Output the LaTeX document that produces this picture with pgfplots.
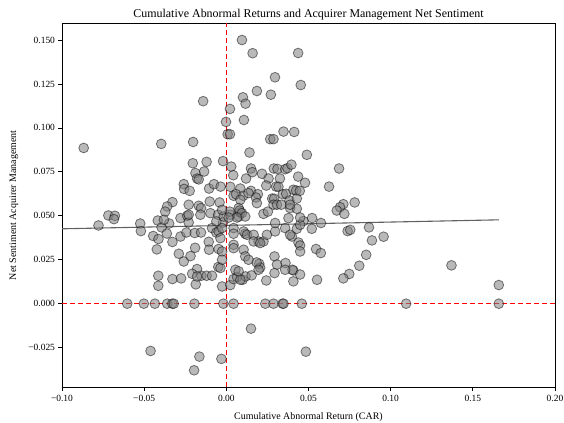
\documentclass[border=0pt]{standalone}
\usepackage{fontspec}
\setmainfont{Liberation Serif}
\usepackage{pgfplots}
\pgfplotsset{compat=1.18}
\usepackage{pgfplotstable}

% CAR (x) against net sentiment of acquirer management (y), one row per deal
\pgfplotstableread{
x y
0.0095 0.1500
0.0160 0.1425
0.0437 0.1426
0.0296 0.1288
0.0453 0.1244
0.0186 0.1210
0.0271 0.1189
0.0101 0.1174
0.0117 0.1138
-0.0141 0.1152
0.0022 0.1108
-0.0002 0.1034
0.0107 0.1045
0.0008 0.0964
0.0022 0.0964
0.0267 0.0936
0.0287 0.0936
0.0348 0.0979
0.0413 0.0977
-0.0868 0.0886
-0.0396 0.0909
-0.0202 0.0920
0.0141 0.0860
0.0490 0.0847
-0.0204 0.0799
-0.0120 0.0807
-0.0020 0.0811
0.0030 0.0780
-0.0188 0.0743
-0.0135 0.0752
-0.0178 0.0712
-0.0168 0.0707
0.0042 0.0731
0.0150 0.0769
0.0158 0.0748
0.0217 0.0739
0.0120 0.0712
0.0257 0.0712
0.0289 0.0769
0.0311 0.0767
0.0358 0.0765
0.0372 0.0771
0.0396 0.0791
0.0326 0.0712
0.0437 0.0723
0.0479 0.0688
0.0243 0.0672
0.0303 0.0666
0.0317 0.0665
-0.0259 0.0680
-0.0257 0.0653
-0.0223 0.0642
-0.0105 0.0655
-0.0075 0.0680
-0.0035 0.0666
0.0024 0.0665
0.0085 0.0655
0.0150 0.0642
0.0192 0.0623
0.0180 0.0604
0.0044 0.0614
0.0059 0.0623
0.0103 0.0614
0.0085 0.0591
0.0279 0.0598
0.0291 0.0597
0.0344 0.0623
0.0364 0.0625
0.0408 0.0648
0.0425 0.0644
0.0384 0.0587
0.0429 0.0598
0.0447 0.0642
0.0686 0.0769
0.0625 0.0666
0.0712 0.0566
0.0781 0.0576
0.0692 0.0549
0.0672 0.0530
0.0718 0.0511
0.0388 0.0544
0.0429 0.0540
0.0522 0.0487
0.0469 0.0470
0.0576 0.0459
0.0429 0.0426
0.0520 0.0426
0.0738 0.0413
0.0754 0.0420
0.0868 0.0434
0.0886 0.0360
0.0957 0.0381
0.0399 0.0382
0.0439 0.0348
0.0449 0.0331
0.0449 0.0297
0.0546 0.0311
0.0575 0.0288
0.0851 0.0278
0.0809 0.0216
0.0748 0.0169
0.0712 0.0144
0.0408 0.0189
0.0449 0.0166
0.0408 0.0127
0.0552 0.0136
0.1370 0.0218
0.1658 0.0106
0.0484 -0.0273
-0.0603 0.0000
-0.0502 0.0000
-0.0435 0.0000
-0.0360 0.0000
-0.0329 0.0000
-0.0320 0.0000
-0.0194 0.0000
-0.0018 0.0000
0.0044 0.0000
0.0237 0.0000
0.0287 0.0000
0.0342 0.0000
0.0348 0.0000
0.0459 0.0000
0.1094 0.0000
0.1658 0.0000
0.0150 -0.0142
-0.0461 -0.0269
-0.0164 -0.0301
-0.0030 -0.0314
-0.0196 -0.0379
-0.0328 0.0578
-0.0360 0.0553
-0.0372 0.0524
-0.0229 0.0563
-0.0168 0.0557
-0.0154 0.0544
-0.0101 0.0581
-0.0041 0.0576
-0.0718 0.0502
-0.0678 0.0500
-0.0684 0.0481
-0.0778 0.0445
-0.0524 0.0456
-0.0520 0.0413
-0.0417 0.0473
-0.0348 0.0456
-0.0394 0.0434
-0.0362 0.0399
-0.0445 0.0385
-0.0413 0.0368
-0.0328 0.0351
-0.0423 0.0309
-0.0289 0.0284
-0.0259 0.0240
-0.0218 0.0271
-0.0190 0.0318
-0.0107 0.0352
-0.0105 0.0307
-0.0178 0.0197
-0.0208 0.0170
-0.0152 0.0159
-0.0120 0.0159
-0.0087 0.0159
-0.0414 0.0159
-0.0414 0.0102
-0.0328 0.0140
-0.0275 0.0144
-0.0186 0.0110
-0.0049 0.0209
-0.0026 0.0098
0.0024 0.0106
0.0044 0.0140
0.0065 0.0152
0.0099 0.0136
0.0117 0.0155
0.0154 0.0161
0.0243 0.0132
0.0293 0.0174
0.0360 0.0231
0.0402 0.0193
0.0293 0.0269
0.0308 0.0223
0.0200 0.0227
0.0206 0.0205
0.0184 0.0235
-0.0380 0.0477
-0.0279 0.0487
-0.0238 0.0500
-0.0229 0.0462
-0.0279 0.0382
-0.0243 0.0405
-0.0192 0.0402
-0.0154 0.0405
-0.0097 0.0515
-0.0050 0.0506
-0.0158 0.0506
-0.0087 0.0430
-0.0061 0.0405
-0.0047 0.0411
-0.0036 0.0373
-0.0047 0.0311
-0.0026 0.0297
-0.0020 0.0462
-0.0061 0.0468
-0.0036 0.0203
-0.0178 0.0155
-0.0229 0.0506
-0.0016 0.0496
0.0024 0.0506
0.0075 0.0496
0.0085 0.0519
0.0226 0.0511
-0.0026 0.0430
0.0044 0.0430
0.0044 0.0398
0.0115 0.0398
0.0105 0.0411
0.0126 0.0392
0.0166 0.0392
0.0196 0.0354
0.0226 0.0354
0.0166 0.0354
0.0206 0.0345
0.0247 0.0392
0.0297 0.0411
0.0297 0.0459
0.0358 0.0430
0.0388 0.0392
0.0449 0.0449
0.0044 0.0335
0.0044 0.0316
0.0105 0.0307
0.0115 0.0269
0.0135 0.0250
-0.0026 0.0250
0.0196 0.0193
0.0358 0.0193
0.0055 0.0193
0.0075 0.0184
0.0085 0.0136
0.0135 0.0629
0.0253 0.0524
0.0186 0.0572
0.0287 0.0563
0.0308 0.0563
0.0334 0.0563
0.0388 0.0563
0.0378 0.0487
0.0449 0.0490
0.0020 0.0524
0.0075 0.0544
0.0081 0.0530
0.0095 0.0515
-0.0026 0.0534
0.0115 0.0496
0.0065 0.0490
0.0014 0.0490
}\cardata

% fitted least-squares line
\pgfplotstableread{
x y
-0.1000 0.0426
0.1658 0.0477
}\fitline

% reference lines at zero sentiment and zero return
\pgfplotstableread{
x y
-0.1 0
0.2 0
nan nan
0 -0.0474
0 0.1594
}\zerolines

\begin{document}
\begin{tikzpicture}
\path[use as bounding box] (-62bp,-36bp) rectangle (502bp,387bp);
\begin{axis}[
  at={(0,0)}, anchor=south west,
  scale only axis, width=493bp, height=363.5bp,
  xmin=-0.1, xmax=0.2, ymin=-0.0474, ymax=0.1594,
  xtick={-0.1,-0.05,0,0.05,0.1,0.15,0.2},
  xticklabels={−0.10,−0.05,0.00,0.05,0.10,0.15,0.20},
  ytick={-0.025,0,0.025,0.05,0.075,0.1,0.125,0.15},
  yticklabels={−0.025,0.000,0.025,0.050,0.075,0.100,0.125,0.150},
  tick align=outside, tick pos=left, major tick length=3.5bp,
  tick style={black, line width=0.8bp},
  axis line style={black, line width=0.8bp},
  ticklabel style={font=\fontsize{9.5}{11}\selectfont},
  xticklabel style={yshift=-1.5bp},
  title={Cumulative Abnormal Returns and Acquirer Management Net Sentiment},
  title style={font=\fontsize{12}{14}\selectfont, at={(axis description cs:0.5,1.0)}, anchor=center, yshift=2.5bp},
  xlabel={Cumulative Abnormal Return (CAR)},
  xlabel style={font=\fontsize{10}{12}\selectfont, at={(axis description cs:0.5,0)}, anchor=center, yshift=-30bp},
  ylabel={Net Sentiment Acquirer Management},
  ylabel style={font=\fontsize{10}{12}\selectfont, at={(axis description cs:0,0.5)}, anchor=center, yshift=48bp},
  unbounded coords=jump,
]
\addplot[only marks, mark=*, mark size=4.9bp,
  mark options={fill=gray, draw=black, fill opacity=0.55, draw opacity=0.5, line width=0.8bp}]
  table[x=x, y=y] {\cardata};
\addplot[no marks, color=black!62, line width=1.1bp] table[x=x, y=y] {\fitline};
\addplot[no marks, draw=red, line width=1.6bp, dash pattern=on 5bp off 3bp] table[x=x, y=y] {\zerolines};
\end{axis}
\end{tikzpicture}
\end{document}
